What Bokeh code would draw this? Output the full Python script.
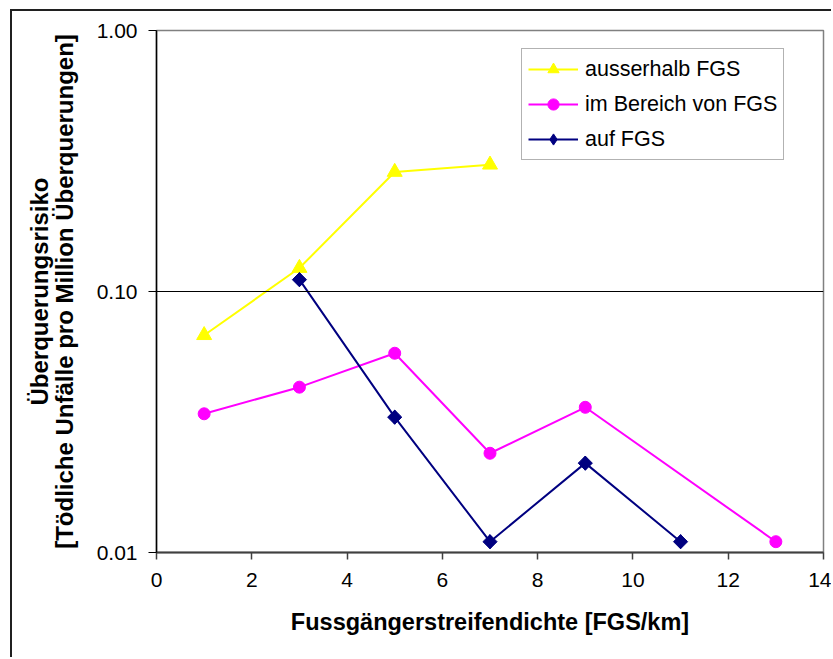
import math

from bokeh.embed import file_html
from bokeh.models import FixedTicker, Legend, LegendItem, PrintfTickFormatter, Span
from bokeh.plotting import figure
from bokeh.resources import INLINE

# Fussgängerstreifendichte [FGS/km] and crossing risk per series
x_ausserhalb = [1, 3, 5, 7]
y_ausserhalb = [0.068, 0.123, 0.287, 0.306]

x_bereich = [1, 3, 5, 7, 9, 13]
y_bereich = [0.034, 0.043, 0.058, 0.024, 0.036, 0.011]

x_auf = [3, 5, 7, 9, 11]
y_auf = [0.111, 0.033, 0.011, 0.022, 0.011]

x_ticks = [0, 2, 4, 6, 8, 10, 12, 14]
y_ticks = [0.01, 0.1, 1.0]

FONT = "Liberation Sans"

p = figure(
    width=821, height=648,
    x_range=(0, 14), y_range=(0.01, 1.0),
    y_axis_type="log",
    output_backend="svg", toolbar_location=None,
    min_border_left=144, min_border_right=10,
    min_border_top=19, min_border_bottom=107,
    background_fill_color="white", border_fill_color="white",
)
# chart-area frame: left and top edge of the surrounding box
p.margin = (9, 0, 0, 10)
p.styles = {"border-left": "2px solid #202020", "border-top": "2px solid #202020"}

p.outline_line_color = "#808080"
p.outline_line_width = 1.5
p.xgrid.visible = False
p.ygrid.visible = False

# reference line at 0.10
p.add_layout(Span(location=0.1, dimension="width", line_color="black", line_width=1.2))

# x axis
xa = p.xaxis[0]
xa.ticker = FixedTicker(ticks=x_ticks)
xa.minor_tick_line_color = None
xa.major_tick_in = 0
xa.major_tick_out = 7
xa.axis_line_color = "#404040"
xa.axis_line_width = 2
xa.major_tick_line_color = "#404040"
xa.major_tick_line_width = 1.5
xa.major_label_text_font = FONT
xa.major_label_text_font_size = "21px"
xa.major_label_text_color = "black"
xa.major_label_standoff = 13
xa.axis_label = "Fussgängerstreifendichte [FGS/km]"
xa.axis_label_text_font = FONT
xa.axis_label_text_font_style = "bold"
xa.axis_label_text_font_size = "23.5px"
xa.axis_label_text_color = "black"
xa.axis_label_standoff = 19

# y axis (logarithmic)
ya = p.yaxis[0]
ya.ticker = FixedTicker(ticks=y_ticks)
ya.formatter = PrintfTickFormatter(format="%.2f")
ya.minor_tick_line_color = None
ya.major_tick_in = 0
ya.major_tick_out = 8
ya.axis_line_color = "black"
ya.axis_line_width = 1.5
ya.major_tick_line_color = "black"
ya.major_tick_line_width = 1.2
ya.major_label_text_font = FONT
ya.major_label_text_font_size = "21px"
ya.major_label_text_color = "black"
ya.major_label_standoff = 11
ya.axis_label = "Überquerungsrisiko\n[Tödliche Unfälle pro Million Überquerungen]"
ya.axis_label_text_font = FONT
ya.axis_label_text_font_style = "bold"
ya.axis_label_text_font_size = "24px"
ya.axis_label_text_color = "black"
ya.axis_label_standoff = 16
ya.axis_label_text_line_height = 0.9

# series
l1 = p.line(x_ausserhalb, y_ausserhalb, line_color="#FFFF00", line_width=2)
m1 = p.scatter(x_ausserhalb, y_ausserhalb, marker="triangle", size=15,
               fill_color="#FFFF00", line_color="#FFFF00")

l2 = p.line(x_bereich, y_bereich, line_color="#FF00FF", line_width=2)
m2 = p.scatter(x_bereich, y_bereich, marker="circle", size=12,
               fill_color="#FF00FF", line_color="#FF00FF")

l3 = p.line(x_auf, y_auf, line_color="#000080", line_width=2)
# diamond key (also drawn under the rotated squares, which cover it)
k3 = p.scatter(x_auf, y_auf, marker="diamond", size=14,
               fill_color="#000080", line_color="#000080")
m3 = p.scatter(x_auf, y_auf, marker="square", size=10, angle=math.pi / 4,
               fill_color="#000080", line_color="#000080")

legend = Legend(
    items=[
        LegendItem(label="ausserhalb FGS", renderers=[l1, m1]),
        LegendItem(label="im Bereich von FGS", renderers=[l2, m2]),
        LegendItem(label="auf FGS", renderers=[l3, k3]),
    ],
    location=(365, 392),
    glyph_width=50, glyph_height=28,
    label_standoff=7, spacing=7, padding=6, margin=0,
    label_text_font=FONT, label_text_font_size="21.5px",
    label_text_color="black",
    border_line_color="#666666", border_line_width=1.5,
    background_fill_color="white", background_fill_alpha=1.0,
)
p.add_layout(legend)

open("out.html", "w").write(file_html(p, INLINE))
